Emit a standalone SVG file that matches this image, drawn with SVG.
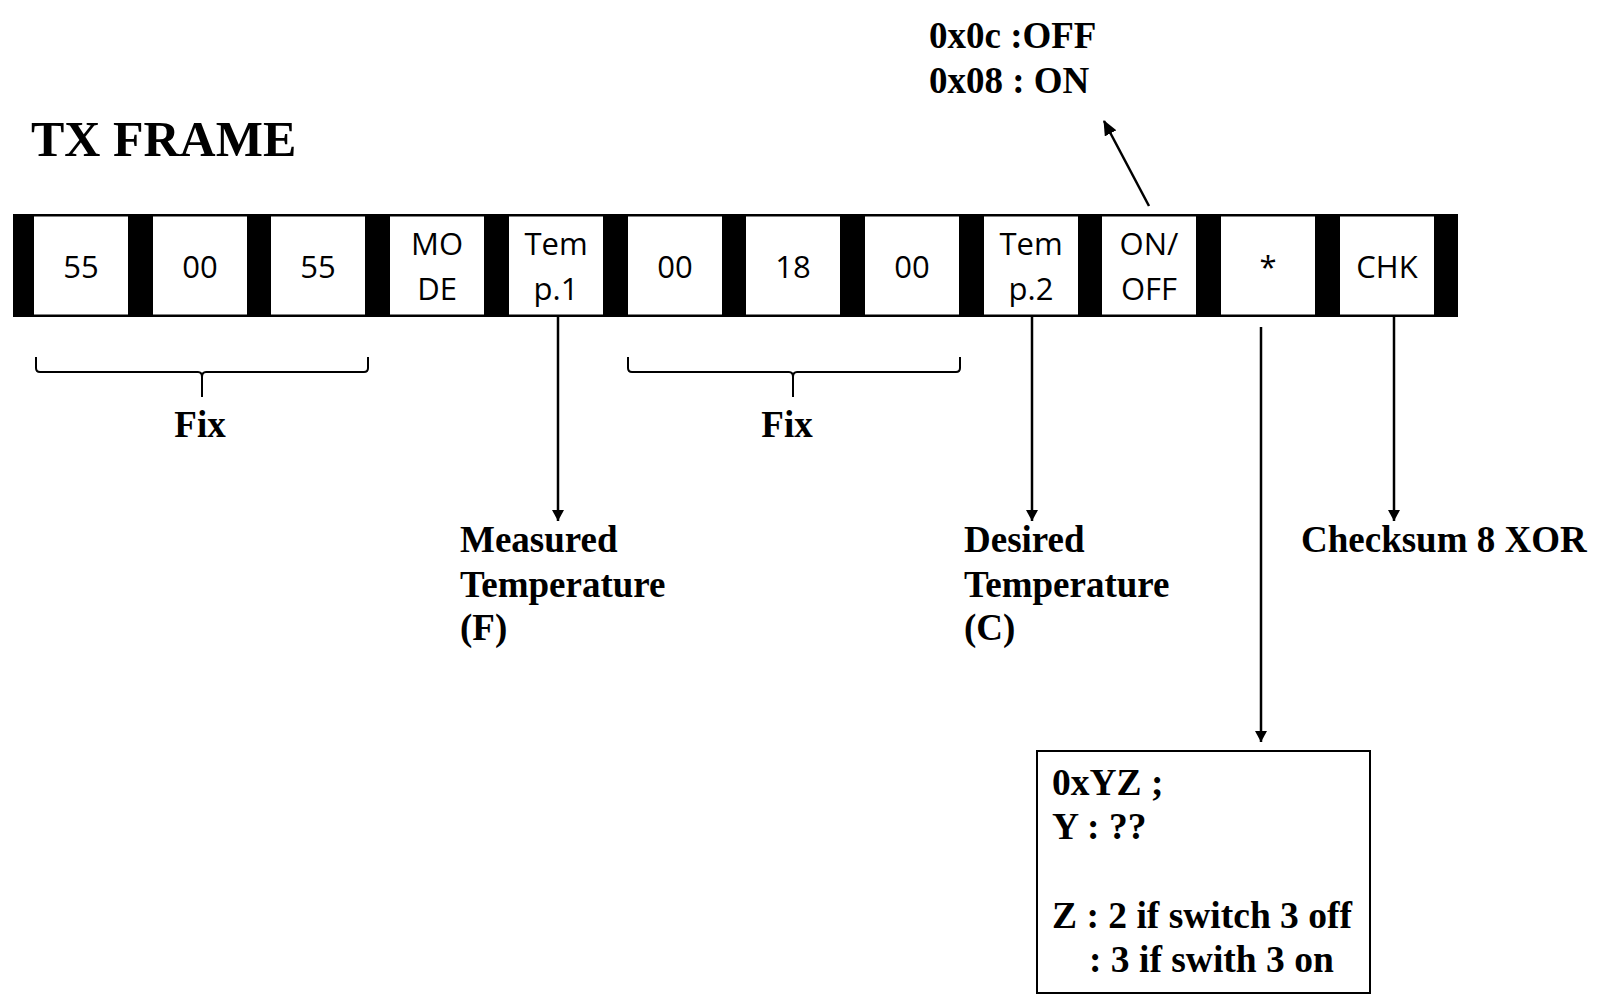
<svg xmlns="http://www.w3.org/2000/svg" width="1613" height="1006" viewBox="0 0 1613 1006">
<style>
.cell{fill:#fff;}
.ct{font-family:"Open Sans","Noto Sans",sans-serif;font-size:31px;fill:#000;text-anchor:middle;}
.lb{font-family:"Liberation Serif","Times New Roman",serif;font-weight:bold;font-size:37px;fill:#000;}
.bx{font-size:37.5px;}
.ln{stroke:#000;stroke-width:2.5;fill:none;}
.br{stroke:#000;stroke-width:2;fill:none;}
</style>
<defs>
<marker id="ah" markerWidth="11" markerHeight="12" refX="11" refY="6" orient="auto" markerUnits="userSpaceOnUse" viewBox="0 0 11 12">
<path d="M0,0 L11,6 L0,12 z" fill="#000"/>
</marker>
<marker id="ah2" markerWidth="15" markerHeight="13" refX="14" refY="6.5" orient="auto" markerUnits="userSpaceOnUse" viewBox="0 0 15 13">
<path d="M0,0 L15,6.5 L0,13 z" fill="#000"/>
</marker>
</defs>
<rect width="1613" height="1006" fill="#fff"/>
<text class="lb" x="31" y="156" style="font-size:50px">TX FRAME</text>
<text class="lb" x="929" y="48">0x0c :OFF</text>
<text class="lb" x="929" y="93">0x08 : ON</text>

<g id="frame">
<rect x="13" y="214" width="1445" height="103" fill="#000"/>
</g>
<g id="b1"><rect class="cell" x="34" y="216.5" width="94" height="98"/><text class="ct" x="81" y="278">55</text></g>
<g id="b2"><rect class="cell" x="153" y="216.5" width="94" height="98"/><text class="ct" x="200" y="278">00</text></g>
<g id="b3"><rect class="cell" x="271" y="216.5" width="94" height="98"/><text class="ct" x="318" y="278">55</text></g>
<g id="b4"><rect class="cell" x="390" y="216.5" width="94" height="98"/><text class="ct" x="437" y="255">MO</text><text class="ct" x="437" y="300">DE</text></g>
<g id="b5"><rect class="cell" x="509" y="216.5" width="94" height="98"/><text class="ct" x="556" y="255">Tem</text><text class="ct" x="556" y="300">p.1</text></g>
<g id="b6"><rect class="cell" x="628" y="216.5" width="94" height="98"/><text class="ct" x="675" y="278">00</text></g>
<g id="b7"><rect class="cell" x="746" y="216.5" width="94" height="98"/><text class="ct" x="793" y="278">18</text></g>
<g id="b8"><rect class="cell" x="865" y="216.5" width="94" height="98"/><text class="ct" x="912" y="278">00</text></g>
<g id="b9"><rect class="cell" x="984" y="216.5" width="94" height="98"/><text class="ct" x="1031" y="255">Tem</text><text class="ct" x="1031" y="300">p.2</text></g>
<g id="b10"><rect class="cell" x="1102" y="216.5" width="94" height="98"/><text class="ct" x="1149" y="255">ON/</text><text class="ct" x="1149" y="300">OFF</text></g>
<g id="b11"><rect class="cell" x="1221" y="216.5" width="94" height="98"/><text class="ct" x="1268" y="278">*</text></g>
<g id="b12"><rect class="cell" x="1340" y="216.5" width="94" height="98"/><text class="ct" x="1387" y="278">CHK</text></g>

<g id="connectors">
<line class="ln" x1="1149" y1="206" x2="1104" y2="121" marker-end="url(#ah2)"/>
<line class="ln" x1="558" y1="317" x2="558" y2="521" marker-end="url(#ah)"/>
<line class="ln" x1="1032" y1="317" x2="1032" y2="521" marker-end="url(#ah)"/>
<line class="ln" x1="1261" y1="327" x2="1261" y2="742" marker-end="url(#ah)"/>
<line class="ln" x1="1394" y1="317" x2="1394" y2="521" marker-end="url(#ah)"/>
<path class="br" d="M36,357 L36,368 Q36,372 40,372 L198,372 Q202,372 202,377 L202,397 M202,377 Q202,372 206,372 L364,372 Q368,372 368,368 L368,357"/>
<path class="br" d="M628,357 L628,368 Q628,372 632,372 L789,372 Q793,372 793,377 L793,397 M793,377 Q793,372 797,372 L956,372 Q960,372 960,368 L960,357"/>
</g>

<g id="fix1"><text class="lb" x="200" y="437" text-anchor="middle">Fix</text></g>
<g id="fix2"><text class="lb" x="787" y="437" text-anchor="middle">Fix</text></g>
<g id="measured"><text class="lb" x="460" y="552">Measured</text><text class="lb" x="460" y="597">Temperature</text><text class="lb" x="460" y="640">(F)</text></g>
<g id="desired"><text class="lb" x="964" y="552">Desired</text><text class="lb" x="964" y="597">Temperature</text><text class="lb" x="964" y="640">(C)</text></g>
<g id="checksum"><text class="lb" x="1301" y="552">Checksum 8 XOR</text></g>
<g id="note">
<rect x="1037" y="751" width="333" height="242" fill="#fff" stroke="#000" stroke-width="2"/>
<text class="lb bx" x="1052" y="795">0xYZ ;</text>
<text class="lb bx" x="1052" y="839">Y : ??</text>
<text class="lb bx" x="1052" y="928">Z : 2 if switch 3 off</text>
<text class="lb bx" x="1089" y="972">: 3 if swith 3 on</text>
</g>
</svg>
